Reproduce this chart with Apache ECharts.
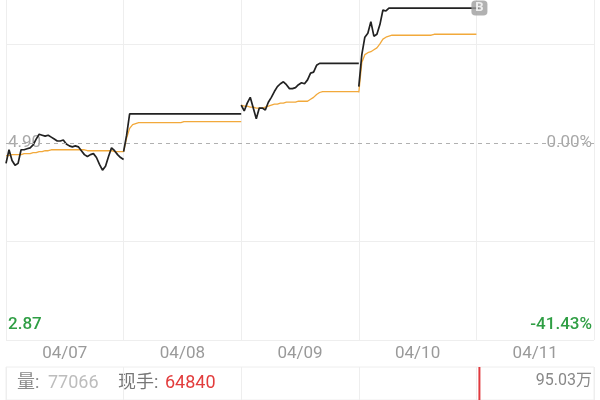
<!DOCTYPE html>
<html>
<head>
<meta charset="utf-8">
<script src="https://cdn.jsdelivr.net/npm/echarts@6/dist/echarts.min.js"></script>
<style>
  html, body { margin: 0; padding: 0; background: #fff; }
  #chart { width: 600px; height: 400px; }
</style>
</head>
<body>
<div id="chart"></div>
<script>
// 5日分时 数据
const days = ['04/07', '04/08', '04/09', '04/10', '04/11'];
const basePrice = 4.90;
const lowPrice = 2.87;
const lowPct = -41.43;
// 截图顶端能看到的价格 (上半部分被裁掉了)
const visibleTopPrice = 6.373;

// 价格 (每日40个采样点)
const price0407 = [4.69, 4.83, 4.72, 4.67, 4.69, 4.83, 4.83, 4.84, 4.85, 4.88,
  4.94, 4.99, 4.98, 4.97, 4.98, 4.96, 4.94, 4.92, 4.92, 4.93,
  4.89, 4.87, 4.86, 4.87, 4.86, 4.82, 4.78, 4.76, 4.78, 4.79,
  4.75, 4.68, 4.62, 4.66, 4.76, 4.85, 4.82, 4.78, 4.75, 4.73];
const price0408 = [4.81, 4.98, 5.20, 5.20, 5.20, 5.20, 5.20, 5.20, 5.20, 5.20,
  5.20, 5.20, 5.20, 5.20, 5.20, 5.20, 5.20, 5.20, 5.20, 5.20,
  5.20, 5.20, 5.20, 5.20, 5.20, 5.20, 5.20, 5.20, 5.20, 5.20,
  5.20, 5.20, 5.20, 5.20, 5.20, 5.20, 5.20, 5.20, 5.20, 5.20];
const price0409 = [5.29, 5.23, 5.31, 5.37, 5.26, 5.15, 5.26, 5.26, 5.24, 5.32,
  5.37, 5.43, 5.48, 5.51, 5.53, 5.50, 5.46, 5.46, 5.47, 5.50,
  5.52, 5.51, 5.55, 5.62, 5.63, 5.70, 5.72, 5.72, 5.72, 5.72,
  5.72, 5.72, 5.72, 5.72, 5.72, 5.72, 5.72, 5.72, 5.72, 5.72];
const price0410 = [5.48, 5.81, 5.99, 6.03, 6.15, 6.00, 6.02, 6.12, 6.27, 6.26,
  6.29, 6.29, 6.29, 6.29, 6.29, 6.29, 6.29, 6.29, 6.29, 6.29,
  6.29, 6.29, 6.29, 6.29, 6.29, 6.29, 6.29, 6.29, 6.29, 6.29,
  6.29, 6.29, 6.29, 6.29, 6.29, 6.29, 6.29, 6.29, 6.29, 6.29];
const price0411 = [6.29, 6.29];

// 均价
const avg0407 = [4.77, 4.77, 4.78, 4.78, 4.78, 4.78, 4.79, 4.79, 4.79, 4.80,
  4.80, 4.81, 4.81, 4.82, 4.82, 4.83, 4.83, 4.83, 4.83, 4.83,
  4.83, 4.83, 4.83, 4.83, 4.83, 4.83, 4.83, 4.82, 4.82, 4.82,
  4.82, 4.82, 4.82, 4.82, 4.82, 4.82, 4.81, 4.81, 4.81, 4.81];
const avg0408 = [4.81, 4.95, 5.05, 5.09, 5.10, 5.11, 5.11, 5.11, 5.11, 5.11,
  5.11, 5.11, 5.11, 5.11, 5.11, 5.11, 5.11, 5.11, 5.11, 5.11,
  5.12, 5.12, 5.12, 5.12, 5.12, 5.12, 5.12, 5.12, 5.12, 5.12,
  5.12, 5.12, 5.12, 5.12, 5.12, 5.12, 5.12, 5.12, 5.12, 5.12];
const avg0409 = [5.29, 5.28, 5.28, 5.27, 5.27, 5.26, 5.26, 5.26, 5.27, 5.28,
  5.29, 5.30, 5.30, 5.31, 5.31, 5.32, 5.32, 5.32, 5.32, 5.33,
  5.33, 5.33, 5.33, 5.35, 5.37, 5.40, 5.42, 5.43, 5.43, 5.43,
  5.43, 5.43, 5.43, 5.43, 5.43, 5.43, 5.43, 5.43, 5.43, 5.43];
const avg0410 = [5.42, 5.73, 5.81, 5.83, 5.84, 5.86, 5.88, 5.92, 5.97, 5.99,
  6.00, 6.01, 6.01, 6.01, 6.01, 6.01, 6.01, 6.01, 6.01, 6.01,
  6.01, 6.01, 6.01, 6.01, 6.01, 6.02, 6.02, 6.02, 6.02, 6.02,
  6.02, 6.02, 6.02, 6.02, 6.02, 6.02, 6.02, 6.02, 6.02, 6.02];

// 成交量 (只看得到 04/11 开盘这一根)
const vol0411 = [null, 950300];
const volMax = 950300;
const volLabel = '95.03万';
const curVolume = '77066';
const curHand = '64840';

const samplesPerDay = 40;
const step = 1 / (samplesPerDay - 1);
const toPct = (p) => (p - basePrice) / basePrice * 100;
const topPct = toPct(visibleTopPrice);

// 把每天的数组拼成一条线，日与日之间断开
function buildLine(dayArrays) {
  const out = [];
  dayArrays.forEach((arr, d) => {
    arr.forEach((p, i) => {
      out.push([d + i * step, p == null ? '-' : toPct(p)]);
    });
    out.push([d + 1, '-']);
  });
  return out;
}

const priceLine = buildLine([price0407, price0408, price0409, price0410, price0411]);
const avgLine = buildLine([avg0407, avg0408, avg0409, avg0410]);
const volData = vol0411.map((v, i) => [4 + i * step, v == null ? '-' : v]);
const lastIdx = price0411.length - 1;
const lastPoint = [4 + lastIdx * step, toPct(price0411[lastIdx])];

const FONT = 'Roboto, "Noto Sans CJK SC", sans-serif';
const near = (a, b) => Math.abs(a - b) < 1e-6;
const GRID = '#eeeeee';
const NONE = 'rgba(0,0,0,0)';
const GREEN = '#2f9e44';

const chart = echarts.init(document.getElementById('chart'));
chart.setOption({
  animation: false,
  textStyle: { fontFamily: FONT },
  grid: [
    { left: 6, right: 6, top: 0, height: 340 },
    { left: 6, right: 6, top: 367, height: 80, show: true, borderColor: GRID, borderWidth: 1 }
  ],
  xAxis: [
    {
      type: 'value', gridIndex: 0, min: 0, max: 5, interval: 1,
      axisLine: { show: false }, axisTick: { show: false }, axisLabel: { show: false },
      splitLine: { show: true, lineStyle: { color: GRID } }
    },
    {
      type: 'category', gridIndex: 0, data: days, boundaryGap: true, position: 'bottom',
      axisLine: { show: false }, axisTick: { show: false }, splitLine: { show: false },
      axisLabel: { color: '#9a9a9a', fontSize: 17, margin: 5, fontFamily: FONT }
    },
    {
      type: 'value', gridIndex: 1, min: 0, max: 5, interval: 1,
      axisLine: { show: false }, axisTick: { show: false }, axisLabel: { show: false },
      splitLine: { show: true, lineStyle: { color: GRID } }
    }
  ],
  yAxis: [
    {
      type: 'value', gridIndex: 0, min: lowPct, max: topPct, interval: -lowPct / 2,
      axisLine: { show: false }, axisTick: { show: false },
      splitLine: { show: true, lineStyle: { color: [GRID, GRID, NONE, GRID, NONE] } },
      axisLabel: {
        inside: true, margin: 2, fontSize: 17, fontFamily: FONT,
        formatter: (v) => {
          if (near(v, 0)) return '{mid|' + basePrice.toFixed(2) + '}';
          if (near(v, lowPct)) return '{dn|' + lowPrice.toFixed(2) + '}';
          return '';
        },
        rich: {
          mid: { color: '#a8a8a8', fontSize: 17, fontFamily: FONT },
          dn: { color: GREEN, fontSize: 17, fontWeight: 500, fontFamily: FONT, padding: [0, 0, 30, 0] }
        }
      }
    },
    {
      type: 'value', gridIndex: 0, position: 'right', min: lowPct, max: topPct, interval: -lowPct / 2,
      axisLine: { show: false }, axisTick: { show: false }, splitLine: { show: false },
      axisLabel: {
        inside: true, margin: 2, fontSize: 17, fontFamily: FONT,
        formatter: (v) => {
          if (near(v, 0)) return '{mid|0.00%}';
          if (near(v, lowPct)) return '{dn|' + lowPct.toFixed(2) + '%}';
          return '';
        },
        rich: {
          mid: { color: '#a8a8a8', fontSize: 17, fontFamily: FONT },
          dn: { color: GREEN, fontSize: 17, fontWeight: 500, fontFamily: FONT, padding: [0, 0, 30, 0] }
        }
      }
    },
    {
      type: 'value', gridIndex: 1, position: 'right', min: 0, max: volMax, interval: volMax,
      axisLine: { show: false }, axisTick: { show: false }, splitLine: { show: false },
      axisLabel: {
        inside: true, margin: 2, fontFamily: FONT,
        formatter: (v) => (near(v, volMax) ? '{t|' + volLabel + '}' : ''),
        rich: { t: { color: '#888888', fontSize: 16, fontFamily: FONT, padding: [27, 0, 0, 0] } }
      }
    }
  ],
  series: [
    {
      name: '价格', type: 'line', xAxisIndex: 0, yAxisIndex: 0, data: priceLine,
      showSymbol: false, connectNulls: false, z: 4,
      lineStyle: { color: '#222222', width: 1.7 },
      markLine: {
        silent: true, symbol: 'none', label: { show: false },
        lineStyle: { color: '#b0b0b0', type: [4, 4], width: 1 },
        data: [{ yAxis: 0 }]
      }
    },
    {
      name: '均价', type: 'line', xAxisIndex: 0, yAxisIndex: 0, data: avgLine,
      showSymbol: false, connectNulls: false, z: 3,
      lineStyle: { color: '#f2a93b', width: 1.3 }
    },
    {
      name: 'B', type: 'scatter', xAxisIndex: 0, yAxisIndex: 0, data: [lastPoint],
      symbol: 'roundRect', symbolSize: [16, 15], z: 5,
      itemStyle: { color: '#9e9e9e' },
      label: { show: true, position: 'inside', formatter: 'B', color: '#fff', fontSize: 13, fontWeight: 'bold', fontFamily: FONT }
    },
    {
      name: '成交量', type: 'bar', xAxisIndex: 2, yAxisIndex: 2, data: volData,
      barWidth: 2, itemStyle: { color: '#e0393e' }
    }
  ],
  graphic: [
    { type: 'text', left: 17, top: 375, style: { text: '量:', fill: '#8a8a8a', font: '18px ' + FONT } },
    { type: 'text', left: 48, top: 375, style: { text: curVolume, fill: '#bdbdbd', font: '18px ' + FONT } },
    { type: 'text', left: 118, top: 375, style: { text: '现手:', fill: '#777777', font: '18px ' + FONT } },
    { type: 'text', left: 165, top: 375, style: { text: curHand, fill: '#e23c3c', font: '18px ' + FONT } }
  ]
});
</script>
</body>
</html>
